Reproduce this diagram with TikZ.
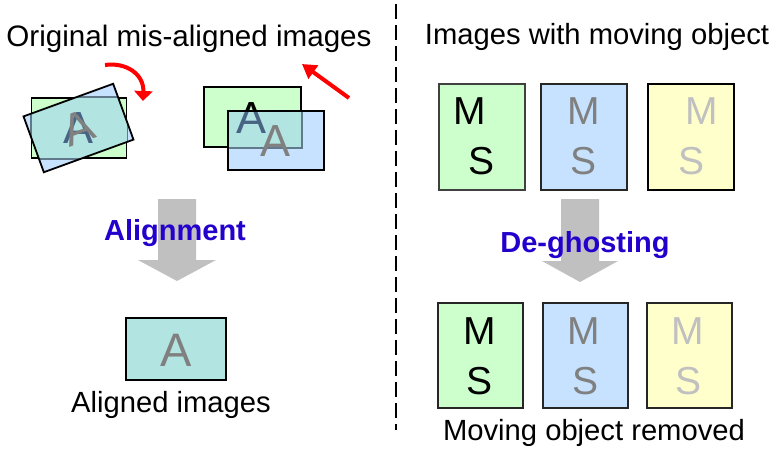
\documentclass[tikz,border=0pt]{standalone}
\usepackage{fontspec}
\setmainfont{Liberation Sans}
\usetikzlibrary{arrows.meta}

\definecolor{imggreen}{RGB}{204,255,204}
\definecolor{imgblue}{RGB}{198,226,255}
\definecolor{imgyellow}{RGB}{255,255,204}
\definecolor{imgmix}{RGB}{178,228,226}
\definecolor{ghostA}{RGB}{72,100,132}
\definecolor{ghostline}{RGB}{96,122,140}
\definecolor{midgray}{RGB}{128,128,128}
\definecolor{lightgray}{RGB}{192,192,192}
\definecolor{stepblue}{RGB}{36,0,204}
\definecolor{arrowgray}{RGB}{192,192,192}

\begin{document}
\begin{tikzpicture}[x=1pt,y=-1pt,
  caption/.style={font=\fontsize{29.2}{34}\selectfont, inner sep=0pt, anchor=base},
  steplabel/.style={font=\fontsize{29}{34}\selectfont\bfseries, text=stepblue, inner sep=0pt, anchor=base},
  frame/.style={draw=black, line width=1.8pt, inner sep=0pt},
  plate/.style={inner sep=0pt},
  pic/.style={minimum width=95pt, minimum height=60pt},
  msbox/.style={draw=black!85, line width=2pt, inner sep=0pt, minimum width=86pt, minimum height=106pt},
  bigA/.style={font=\fontsize{45}{50}\selectfont, inner sep=0pt},
  msletter/.style={font=\fontsize{39}{44}\selectfont, inner sep=0pt},
  redarrow/.style={draw=red, line width=4pt},
  blockarrow/.style={fill=arrowgray, draw=none}
]
\useasboundingbox (0,0) rectangle (771,451);

% ---------- divider ----------
\coordinate (divtop) at (396,4);
\coordinate (divbot) at (396,430);
\draw[line width=2pt, dash pattern=on 15pt off 6pt] (divtop) -- (divbot);

% ---------- titles ----------
\node[caption, font=\fontsize{29.6}{34}\selectfont] (tleft) at (189,46.5) {Original mis-aligned images};
\node[caption] (tright) at (597,44) {Images with moving object};

% ---------- rotated pair ----------
\node[frame, pic, fill=imggreen] (lg) at (79,128) {};
\node[bigA, text=black] (lgA) at (79,128) {A};
\node[plate, pic, fill=imgblue, minimum height=59pt, rotate=20] (lb) at (78.5,128) {};
\begin{scope}
  \clip (lb.north west) -- (lb.north east) -- (lb.south east) -- (lb.south west) -- cycle;
  \fill[imgmix] (lg.north west) rectangle (lg.south east);
  \draw[ghostline, line width=1.8pt] (lg.north west) rectangle (lg.south east);
  \node[bigA, text=ghostA] (lgAghost) at (79,128) {A};
\end{scope}
\draw[line width=1.8pt] (lb.north west) -- (lb.north east) -- (lb.south east) -- (lb.south west) -- cycle;
\node[bigA, text=midgray, rotate=20] (lbA) at (78.5,128) {A};

% rotation arrow
\coordinate (rotS) at (105,65);
\coordinate (rotE) at (143,101);
\draw[redarrow, -{Triangle[length=10pt,width=18pt]}]
  (rotS) .. controls (126,62) and (144,74) .. (rotE);

% ---------- shifted pair ----------
\node[frame, pic, minimum width=97pt, fill=imggreen] (rg) at (252.5,117) {};
\node[bigA, text=black] (rgA) at (252,118) {A};
\node[plate, pic, minimum width=96pt, minimum height=59pt, fill=imgblue] (rb) at (276,140.5) {};
\begin{scope}
  \clip (rb.north west) rectangle (rb.south east);
  \fill[imgmix] (rg.north west) rectangle (rg.south east);
  \draw[ghostline, line width=1.8pt] (rg.north west) rectangle (rg.south east);
  \node[bigA, text=ghostA] (rgAghost) at (252,118) {A};
\end{scope}
\draw[line width=1.8pt] (rb.north west) rectangle (rb.south east);
\node[bigA, text=midgray] (rbA) at (276,141) {A};

% translation arrow
\coordinate (movS) at (349,98);
\coordinate (movE) at (302,64);
\draw[redarrow, -{Triangle[length=14pt,width=16pt]}] (movS) -- (movE);

% ---------- alignment step ----------
\fill[blockarrow] (158,199) -- (196,199) -- (196,260) -- (216,260) -- (177,281)
  -- (138,260) -- (158,260) -- cycle;
\node[steplabel] (align) at (175,240) {Alignment};

\node[frame, minimum width=100pt, minimum height=62pt, fill=imgmix] (al) at (176,349) {};
\node[font=\fontsize{47}{52}\selectfont, inner sep=0pt, text=midgray] (alA) at (176,350) {A};
\node[caption] (cleft) at (171,412) {Aligned images};

% ---------- moving object: inputs ----------
\node[msbox, draw=black!75, fill=imggreen] (in1) at (482,136.5) {};
\node[msbox, fill=imgblue] (in2) at (584,136.5) {};
\node[msbox, draw=black, fill=imgyellow] (in3) at (691,137) {};
\node[msletter, text=black] (in1M) at (470,111) {M};
\node[msletter, text=black] (in1S) at (482,161.5) {S};
\node[msletter, text=midgray] (in2M) at (584,111) {M};
\node[msletter, text=midgray] (in2S) at (583.5,161.5) {S};
\node[msletter, text=lightgray] (in3M) at (702,111) {M};
\node[msletter, text=lightgray] (in3S) at (691,161.5) {S};

% ---------- de-ghosting step ----------
\fill[blockarrow] (561,199) -- (599,199) -- (599,261) -- (618,261) -- (580,282)
  -- (542,261) -- (561,261) -- cycle;
\node[steplabel] (deghost) at (585,252) {De-ghosting};

% ---------- moving object: outputs ----------
\node[msbox, minimum width=85pt, minimum height=105pt, fill=imggreen] (out1) at (480.5,355.5) {};
\node[msbox, minimum width=85pt, minimum height=105pt, fill=imgblue] (out2) at (585.5,355.5) {};
\node[msbox, minimum width=85pt, minimum height=105pt, fill=imgyellow] (out3) at (689.5,355.5) {};
\node[msletter, text=black] (out1M) at (480,331.5) {M};
\node[msletter, text=black] (out1S) at (480,381.5) {S};
\node[msletter, text=midgray] (out2M) at (584,331.5) {M};
\node[msletter, text=midgray] (out2S) at (585,381.5) {S};
\node[msletter, text=lightgray] (out3M) at (688,331.5) {M};
\node[msletter, text=lightgray] (out3S) at (688,381.5) {S};

\node[caption] (cright) at (594,440) {Moving object removed};
\end{tikzpicture}
\end{document}
